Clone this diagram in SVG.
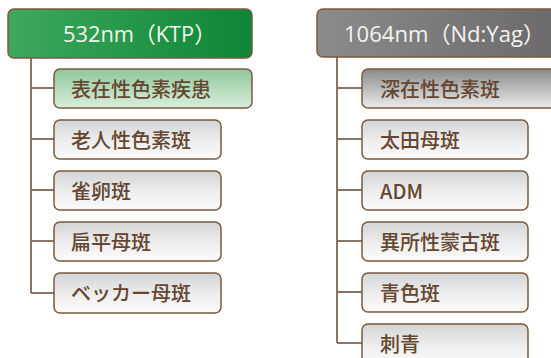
<svg xmlns="http://www.w3.org/2000/svg" width="551" height="358" viewBox="0 0 551 358">
<defs>
<linearGradient id="gGreen" x1="0" y1="0" x2="1" y2="0">
<stop offset="0" stop-color="#3fa85c"/><stop offset="1" stop-color="#0d8636"/>
</linearGradient>
<linearGradient id="gGrey" x1="0" y1="0" x2="1" y2="0">
<stop offset="0" stop-color="#8c8b8b"/><stop offset="1" stop-color="#6a686a"/>
</linearGradient>
<linearGradient id="gChild" x1="0" y1="0" x2="0" y2="1">
<stop offset="0" stop-color="#d3d4d6"/><stop offset="0.55" stop-color="#eeeeee"/><stop offset="1" stop-color="#fbfbfb"/>
</linearGradient>
<linearGradient id="gChildGreen" x1="0" y1="0" x2="0" y2="1">
<stop offset="0" stop-color="#8fc79b"/><stop offset="1" stop-color="#d9eedb"/>
</linearGradient>
<linearGradient id="gChildGrey" x1="0" y1="0" x2="0" y2="1">
<stop offset="0" stop-color="#8a898b"/><stop offset="1" stop-color="#ececec"/>
</linearGradient>
</defs>
<style>
.hdr{stroke:#7a5a3e;stroke-width:1.5}
.box{stroke:#7a5a3e;stroke-width:1.5;fill:url(#gChild)}
.ht{font-family:"Open Sans","Noto Sans CJK JP",sans-serif;font-size:22px;fill:#f4f4f0}
.ct{font-family:"Noto Sans CJK JP",sans-serif;font-size:20px;font-weight:500;fill:#654630}
.con{stroke:#8a7464;stroke-width:2;fill:none}
</style>
<g id="connectors">
<path class="con" d="M31 58 V293 M31 88 H54 M31 139 H54 M31 190 H54 M31 241 H54 M31 293 H54"/>
<path class="con" d="M337 57 V343 M337 88 H362 M337 139 H362 M337 190 H362 M337 241 H362 M337 292 H362 M337 343 H362"/>
</g>
<g id="hdr-ktp"><rect class="hdr" x="8" y="9" width="244" height="49" rx="6" fill="url(#gGreen)"/><text class="ht" x="63" y="41.5" textLength="153" lengthAdjust="spacingAndGlyphs">532nm（KTP）</text></g>
<g id="n1"><rect class="box" x="54" y="69" width="198" height="39" rx="6" style="fill:url(#gChildGreen)"/><text class="ct" x="71" y="97">表在性色素疾患</text></g>
<g id="n2"><rect class="box" x="54" y="120" width="167" height="39" rx="6"/><text class="ct" x="71" y="148">老人性色素斑</text></g>
<g id="n3"><rect class="box" x="54" y="171" width="167" height="39" rx="6"/><text class="ct" x="71" y="199">雀卵斑</text></g>
<g id="n4"><rect class="box" x="54" y="222" width="167" height="39" rx="6"/><text class="ct" x="71" y="250">扁平母斑</text></g>
<g id="n5"><rect class="box" x="54" y="273" width="167" height="40" rx="6"/><text class="ct" x="71" y="301">ベッカー母斑</text></g>
<g id="hdr-yag"><rect class="hdr" x="317" y="9" width="250" height="48" rx="6" fill="url(#gGrey)"/><text class="ht" x="344" y="41.5" textLength="201" lengthAdjust="spacingAndGlyphs">1064nm（Nd:Yag）</text></g>
<g id="m1"><rect class="box" x="362" y="69" width="205" height="39" rx="6" style="fill:url(#gChildGrey)"/><text class="ct" x="380" y="97">深在性色素斑</text></g>
<g id="m2"><rect class="box" x="362" y="120" width="166" height="39" rx="6"/><text class="ct" x="380" y="148">太田母斑</text></g>
<g id="m3"><rect class="box" x="362" y="171" width="166" height="39" rx="6"/><text class="ct" x="380" y="199">ADM</text></g>
<g id="m4"><rect class="box" x="362" y="222" width="166" height="39" rx="6"/><text class="ct" x="380" y="250">異所性蒙古斑</text></g>
<g id="m5"><rect class="box" x="362" y="273" width="166" height="39" rx="6"/><text class="ct" x="380" y="301">青色斑</text></g>
<g id="m6"><rect class="box" x="362" y="324" width="166" height="40" rx="6"/><text class="ct" x="380" y="352">刺青</text></g>
</svg>
